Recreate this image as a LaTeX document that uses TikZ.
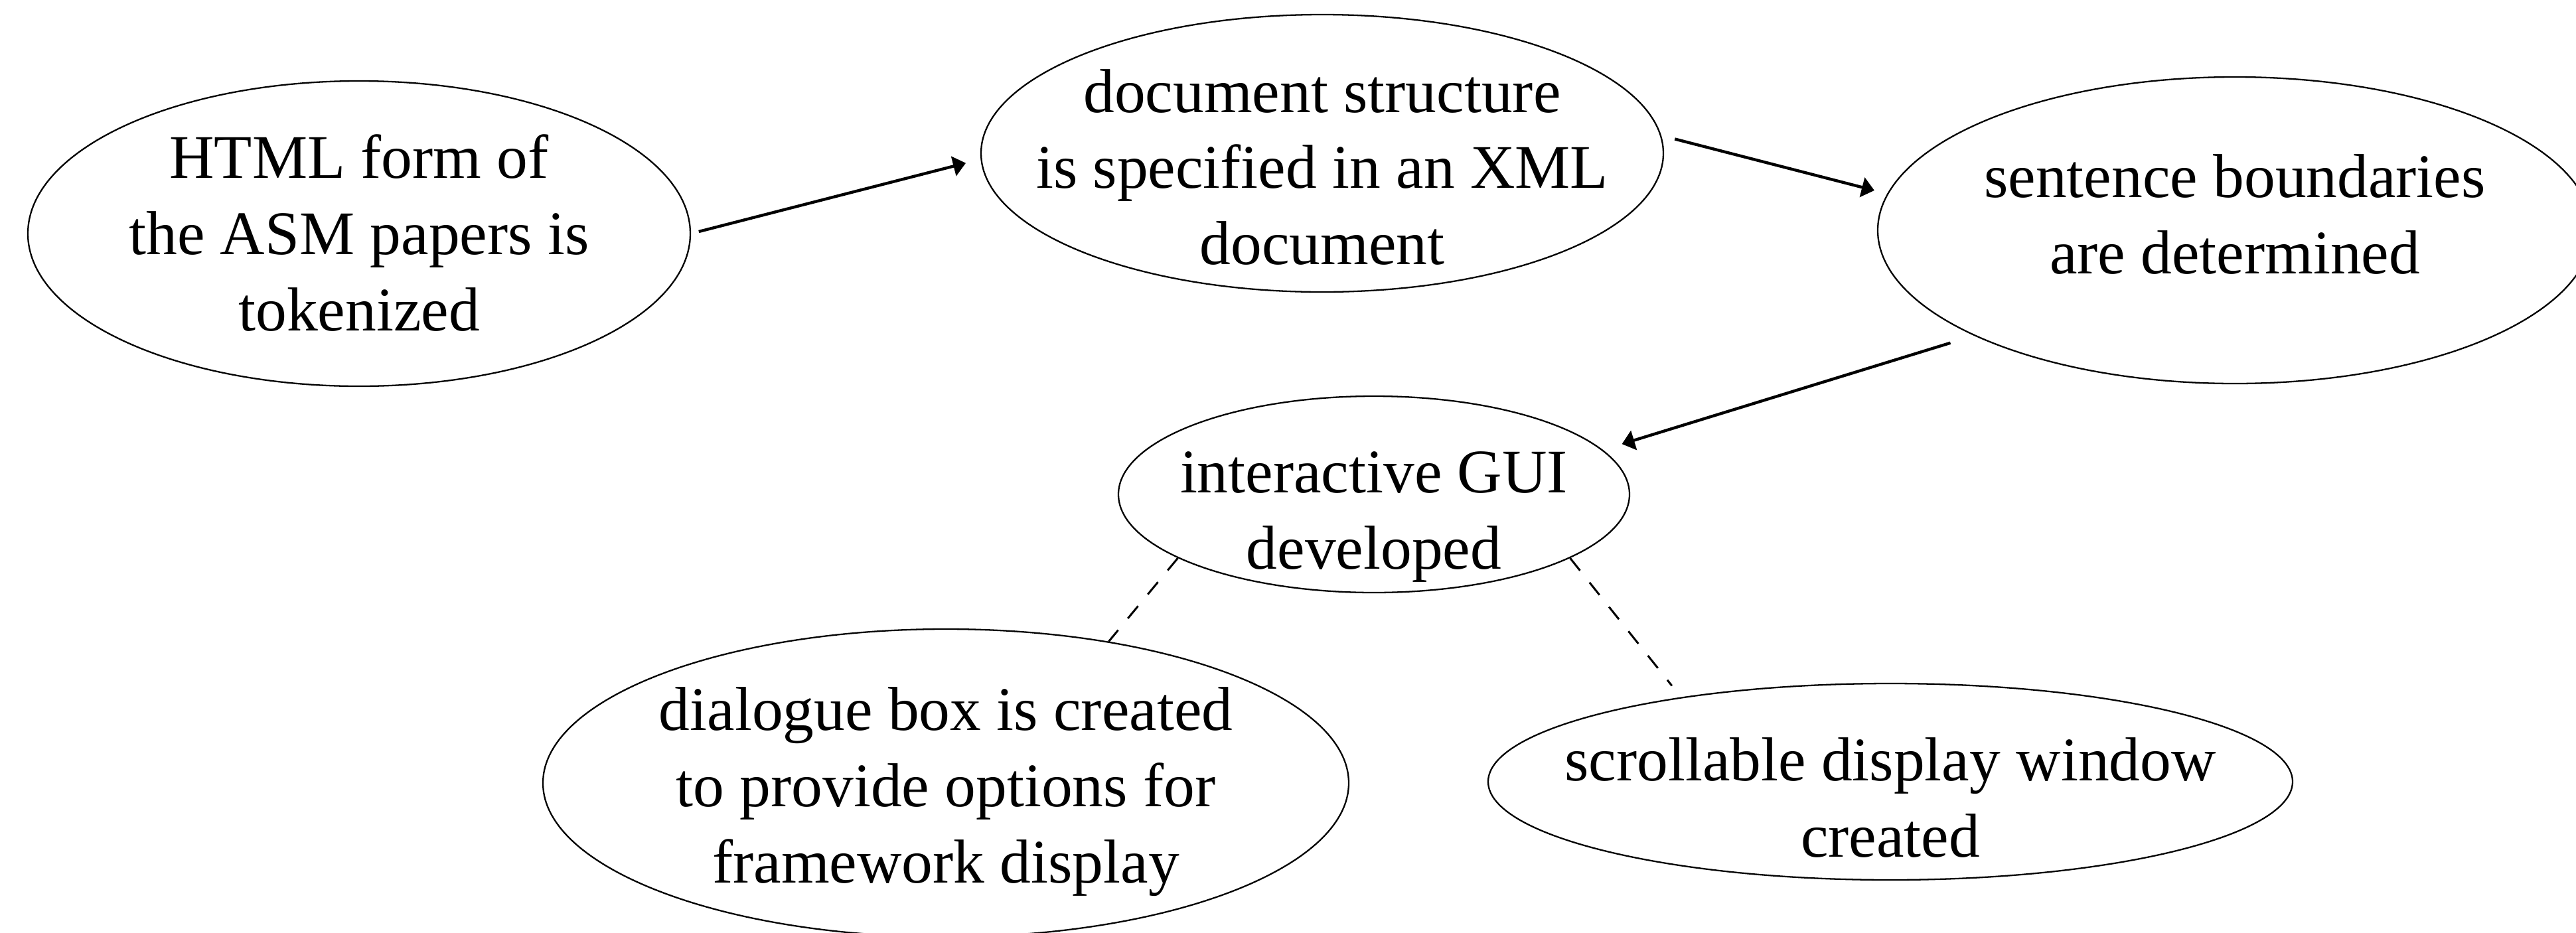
\documentclass[tikz,border=0pt]{standalone}
\usepackage{fontspec}
\setmainfont{Liberation Serif}
\usetikzlibrary{shapes.geometric,arrows.meta}

\begin{document}
\begin{tikzpicture}[
    bubble/.style = {draw, ellipse, inner sep=0pt, line width=0.65pt},
    words/.style = {align=center, inner sep=0pt, font=\fontsize{26.6}{32.7}\selectfont},
    flow/.style = {line width=1.25pt, -{Triangle[length=1.9mm, width=3mm]}},
    link/.style = {line width=0.85pt, dash pattern=on 2.4mm off 2.3mm}
  ]
    \path[use as bounding box, clip] (0,0) rectangle (38.81,-14.05);

    % the steps
    \node [bubble, minimum width = 9.98cm, minimum height = 4.60cm] (html) at (5.41,-3.52) {};
    \node [words] (html-txt) at (5.41,-3.51) {HTML form of\\the ASM papers is\\tokenized};

    \node [bubble, minimum width = 10.28cm, minimum height = 4.18cm] (xml) at (19.92,-2.31) {};
    \node [words] (xml-txt) at (19.92,-2.52) {document structure\\is specified in an XML\\document};

    \node [bubble, minimum width = 10.76cm, minimum height = 4.62cm] (sent) at (33.67,-3.47) {};
    \node [words] (sent-txt) at (33.67,-3.23) {sentence boundaries\\are determined};

    \node [bubble, minimum width = 7.70cm, minimum height = 2.96cm] (gui) at (20.70,-7.45) {};
    \node [words] (gui-txt) at (20.70,-7.79) {interactive GUI\\developed};

    \node [bubble, minimum width = 12.14cm, minimum height = 4.64cm] (dlg) at (14.25,-11.80) {};
    \node [words] (dlg-txt) at (14.25,-11.93) {dialogue box is created\\to provide options for\\framework display};

    \node [bubble, minimum width = 12.12cm, minimum height = 2.96cm] (scroll) at (28.48,-11.78) {};
    \node [words] (scroll-txt) at (28.48,-12.02) {scrollable display window\\created};

    % arrows between the steps
    \draw [flow, shorten <= 0.12cm, shorten >= 0.23cm] (html.0) -- (xml.181);
    \draw [flow, shorten <= 0.21cm, shorten >= 0.20cm] (xml.3) -- (sent.174);
    \draw [flow, shorten <= 0.37cm, shorten >= 0.30cm] (sent.202) -- (gui.11);

    % parts of the GUI
    \draw [link] (gui.198) -- (dlg.41);
    \draw [link, shorten >= 0.22cm] (gui.342) -- (scroll.158);
\end{tikzpicture}
\end{document}
